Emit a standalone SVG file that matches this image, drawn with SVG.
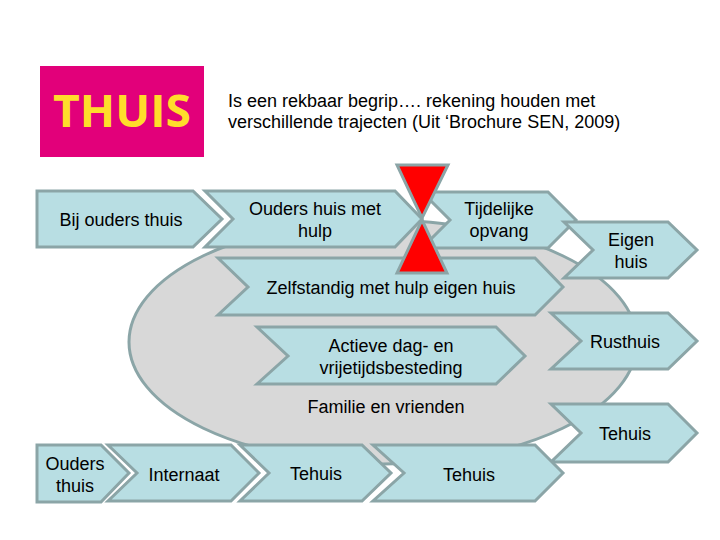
<svg xmlns="http://www.w3.org/2000/svg" width="720" height="540" viewBox="0 0 720 540">
<style>
.s{fill:#b8dee3;stroke:#8ba5a7;stroke-width:3;stroke-linejoin:miter}
.t{font-family:"Liberation Sans",Arial,sans-serif;font-size:18px;fill:#000;text-anchor:middle}
.h{font-family:"Liberation Sans",Arial,sans-serif;font-size:18px;fill:#000}
</style>
<rect width="720" height="540" fill="#fff"/>
<g id="logo"><rect x="40" y="66" width="164" height="91" fill="#e2007a"/><text x="122" y="127" font-family="'Open Sans',sans-serif" font-weight="700" font-size="44" fill="#ffdd2b" text-anchor="middle" textLength="138" lengthAdjust="spacingAndGlyphs">THUIS</text></g>
<g id="title"><text class="h" x="228" y="107">Is een rekbaar begrip…. rekening houden met</text><text class="h" x="228" y="128">verschillende trajecten (Uit ‘Brochure SEN, 2009)</text></g>
<g id="ellipse"><ellipse cx="383" cy="342" rx="254" ry="122" fill="#d8d8d8" stroke="#8ba5a7" stroke-width="3"/></g>
<g id="n1"><path class="s" d="M37 191H193L222 219L193 247H37Z"/><text class="t" x="121" y="225.500">Bij ouders thuis</text></g>
<g id="n2"><path class="s" d="M205 191H395L422 219L395 247H205L233 219Z"/><text class="t" x="315" y="215">Ouders huis met</text><text class="t" x="315" y="237">hulp</text></g>
<g id="n3"><path class="s" d="M422 192H548L576 220L548 248H422L450 220Z"/><text class="t" x="499" y="215">Tijdelijke</text><text class="t" x="499" y="237">opvang</text></g>
<g id="n4"><path class="s" d="M564 222H668L697 250L668 278H564L593 250Z"/><text class="t" x="631" y="246">Eigen</text><text class="t" x="631" y="268">huis</text></g>
<g id="n5"><path class="s" d="M218 258H535L563 287L535 315H218L248 287Z"/><text class="t" x="391" y="294">Zelfstandig met hulp eigen huis</text></g>
<g id="n6"><path class="s" d="M257 327H496L525 356L496 384H257L288 356Z"/><text class="t" x="391" y="352">Actieve dag- en</text><text class="t" x="391" y="374">vrijetijdsbesteding</text></g>
<g id="n7"><text class="t" x="386" y="413">Familie en vrienden</text></g>
<g id="n8"><path class="s" d="M551 313H668L697 341L668 369H551L581 341Z"/><text class="t" x="625" y="348">Rusthuis</text></g>
<g id="n9"><path class="s" d="M551 404H668L697 433L668 462H551L581 433Z"/><text class="t" x="625" y="440">Tehuis</text></g>
<g id="n10"><path class="s" d="M37 445H101L129 473L101 502H37Z"/><text class="t" x="75" y="470">Ouders</text><text class="t" x="75" y="492">thuis</text></g>
<g id="n11"><path class="s" d="M108 445H231L259 473L231 501H108L137 473Z"/><text class="t" x="184" y="481">Internaat</text></g>
<g id="n12"><path class="s" d="M240 445H362L391 473L362 501H240L269 473Z"/><text class="t" x="316" y="480">Tehuis</text></g>
<g id="n13"><path class="s" d="M373 445H535L563 473L535 501H373L404 473Z"/><text class="t" x="469" y="481">Tehuis</text></g>
<g id="hourglass"><path d="M397 165H448L422 218Z M422 220L447 273H397Z" fill="#ff0000" stroke="#8ba5a7" stroke-width="3"/></g>
</svg>
